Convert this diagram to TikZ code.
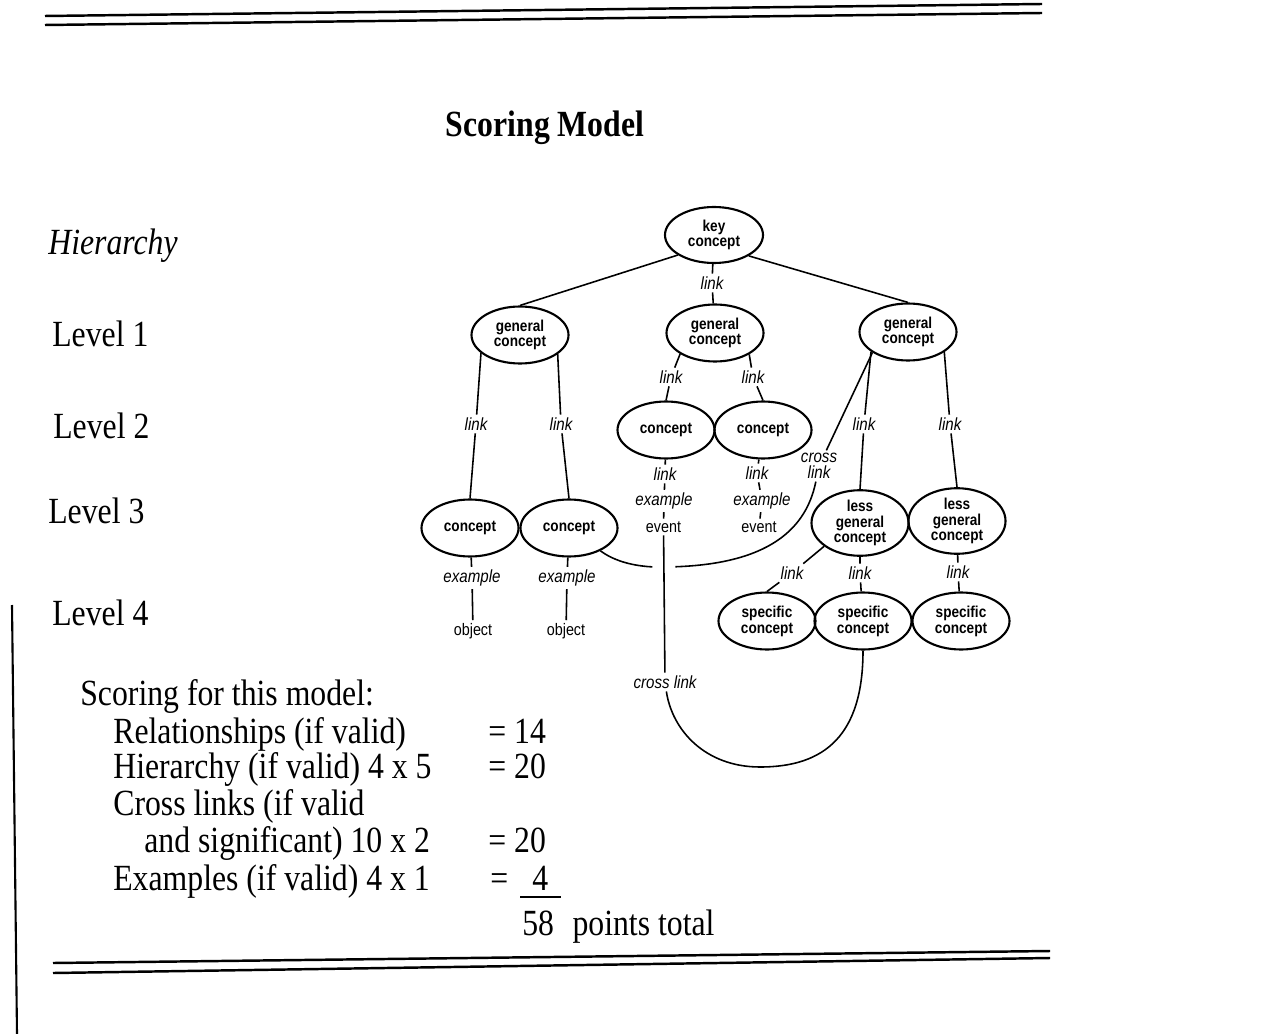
\documentclass[tikz,border=0pt]{standalone}
\usepackage{fontspec}
\setmainfont{Liberation Serif}[FakeStretch=0.86]
\newfontfamily\treefont{Liberation Sans}[FakeStretch=0.86]
\usetikzlibrary{positioning,shapes.geometric}
\tikzset{
  cpt/.style={draw, ellipse, minimum width=1.94cm, minimum height=1.14cm, inner sep=0pt, align=center, line width=1.2pt, font=\treefont\bfseries\fontsize{9}{9}\selectfont},
  lnk/.style={inner sep=1.5pt, align=center, font=\treefont\itshape\fontsize{10}{9}\selectfont},
  ex/.style={inner sep=1.5pt, font=\treefont\fontsize{9.5}{10}\selectfont},
  conn/.style={line width=0.9pt},
  txt/.style={anchor=base west, inner sep=0pt, font=\fontsize{21}{25}\selectfont},
  rule/.style={line width=1.4pt},
}

\begin{document}
\begin{tikzpicture}
\useasboundingbox (0,0) rectangle (25.44,-20.68);

% Page rules
\draw[rule] (0.90,-0.32) -- (20.84,-0.08);
\draw[rule] (0.90,-0.50) -- (20.84,-0.26);
\draw[rule] (1.06,-19.26) -- (21.00,-19.02);
\draw[rule] (1.06,-19.46) -- (21.00,-19.16);
\draw[line width=1.2pt] (0.24,-12.10) -- (0.34,-20.68);

% Title
\node[anchor=base, inner sep=0pt, font=\bfseries\fontsize{21}{25}\selectfont] (title) at (10.90,-2.74) {Scoring Model};

% Hierarchy levels
\node[txt, font=\itshape\fontsize{21}{25}\selectfont] (hier) at (0.96,-5.10) {Hierarchy};
\foreach \x/\y/\n in {1.04/-6.94/1, 1.06/-8.76/2, 0.96/-10.46/3, 1.04/-12.50/4}
  \node[txt] (lev\n) at (\x,\y) {Level \n};

% Concepts
\node[cpt, minimum width=1.96cm, minimum height=1.12cm] (kc) at (14.28,-4.70) {key\\concept};
\node[cpt] (gL) at (10.40,-6.70) {general\\concept};
\node[cpt] (gM) at (14.30,-6.66) {general\\concept};
\node[cpt] (gR) at (18.16,-6.64) {general\\concept};
\node[cpt] (cM1) at (13.32,-8.60) {concept};
\node[cpt] (cM2) at (15.26,-8.60) {concept};
\node[cpt] (cL1) at (9.40,-10.56) {concept};
\node[cpt] (cL2) at (11.38,-10.56) {concept};
\node[cpt] (lg1) at (17.20,-10.46) {less\\general\\concept};
\node[cpt] (lg2) at (19.14,-10.42) {less\\general\\concept};
\foreach \n/\x in {1/15.34, 2/17.26, 3/19.22}
  \node[cpt] (sc\n) at (\x,-12.42) {specific\\concept};

% Link labels
\node[lnk] (lk0) at (14.24,-5.66) {link};
\node[lnk] (lkM1a) at (13.42,-7.54) {link};
\node[lnk] (lkM2a) at (15.06,-7.54) {link};
\node[lnk] (lkL1) at (9.52,-8.48) {link};
\node[lnk] (lkL2) at (11.22,-8.48) {link};
\node[lnk] (lkR1) at (17.28,-8.48) {link};
\node[lnk] (lkR2) at (19.00,-8.48) {link};
\node[lnk] (lkM1b) at (13.30,-9.48) {link};
\node[lnk] (lkM2b) at (15.14,-9.46) {link};
\node[lnk] (lkS1) at (15.84,-11.46) {link};
\node[lnk] (lkS2) at (17.20,-11.46) {link};
\node[lnk] (lkS3) at (19.16,-11.44) {link};

% Examples
\node[lnk] (exM1) at (13.28,-10.02) {example};
\node[lnk] (exM2) at (15.24,-10.02) {example};
\node[ex] (evM1) at (13.27,-10.54) {event};
\node[ex] (evM2) at (15.18,-10.54) {event};
\node[lnk] (exL1) at (9.44,-11.56) {example};
\node[lnk] (exL2) at (11.34,-11.56) {example};
\node[ex] (obL1) at (9.46,-12.62) {object};
\node[ex] (obL2) at (11.32,-12.62) {object};

% Hierarchy links
\draw[conn] (kc.209) -- (gL.north);
\draw[conn] (kc.-31) -- (gR.north);
\draw[conn] (kc) -- (lk0) -- (gM);
\draw[conn] (gM.211) -- (lkM1a) -- (cM1.north);
\draw[conn] (gM.-32) -- (lkM2a) -- (cM2.north);
\draw[conn] (gL.205) -- (lkL1) -- (cL1.north);
\draw[conn] (gL.-27) -- (lkL2) -- (cL2.north);
\draw[conn] (gR.208) -- (lkR1) -- (lg1.north);
\draw[conn] (gR.-29) -- (lkR2) -- (lg2.north);
\draw[conn] (lg1.213) -- (lkS1) -- (sc1.north);
\draw[conn] (lg1) -- (lkS2) -- (sc2);
\draw[conn] (lg2) -- (lkS3) -- (sc3);

% Example chains
\draw[conn] (cM1) -- (lkM1b) -- (exM1) -- (evM1);
\draw[conn] (cM2) -- (lkM2b) -- (exM2) -- (evM2);
\draw[conn] (cL1) -- (exL1) -- (obL1);
\draw[conn] (cL2) -- (exL2) -- (obL2);

% Cross links
\node[lnk] (xR) at (16.38,-9.32) {cross\\link};
\draw[conn] (gR.210) -- (xR);
\draw[conn] (xR) .. controls (16.10,-10.70) and (15.20,-11.32) .. (13.30,-11.34)
  .. controls (12.60,-11.36) and (12.20,-11.16) .. (cL2.-36);
\node[lnk] (xM) at (13.30,-13.64) {cross link};
\draw[conn, preaction={draw, white, line width=0.46cm}] (evM1) -- (xM);
\draw[conn] (xM) .. controls (13.44,-14.60) and (14.10,-15.34) .. (15.20,-15.34)
  .. controls (16.50,-15.34) and (17.26,-14.70) .. (sc2.south);

% Scoring
\node[txt] (head) at (1.60,-14.10) {Scoring for this model:};
\node[txt] (rel) at (2.26,-14.86) {Relationships (if valid)};
\node[txt] (hie) at (2.26,-15.56) {Hierarchy (if valid) 4 x 5};
\node[txt] (cra) at (2.26,-16.30) {Cross links (if valid};
\node[txt] (crb) at (2.88,-17.04) {and significant) 10 x 2};
\node[txt] (exa) at (2.26,-17.80) {Examples (if valid) 4 x 1};
\node[txt] (eqrel) at (9.76,-14.86) {= 14};
\node[txt] (eqhie) at (9.76,-15.56) {= 20};
\node[txt] (eqcr) at (9.76,-17.04) {= 20};
\node[txt] (eqex) at (9.80,-17.80) {=};
\node[txt] (four) at (10.64,-17.80) {4};
\draw[rule] (10.40,-17.94) -- (11.22,-17.94);
\node[txt] (total) at (10.44,-18.70) {58\enspace points total};

\end{tikzpicture}
\end{document}
